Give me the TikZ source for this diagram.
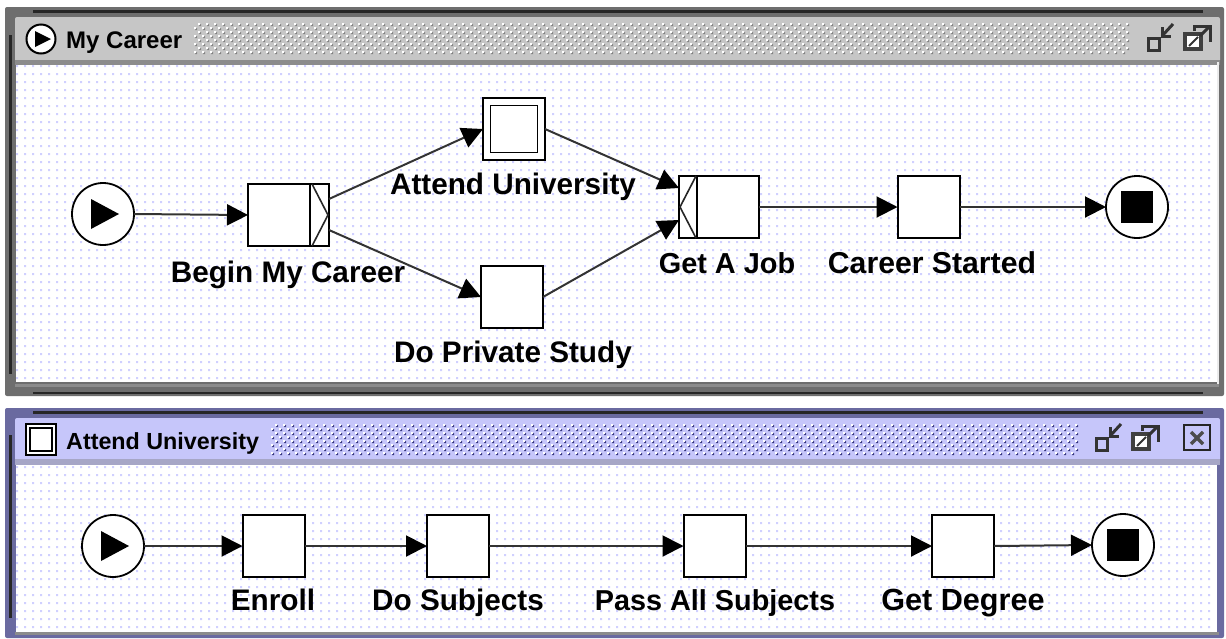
\documentclass[tikz,border=0pt]{standalone}
\usepackage{fontspec}
\setmainfont{Liberation Sans}
\usetikzlibrary{arrows.meta,calc}
\definecolor{frameg}{HTML}{6E6E6E}
\definecolor{titleg}{HTML}{C6C6C6}
\definecolor{linegg}{HTML}{8C8C8C}
\definecolor{framep}{HTML}{6A6AA0}
\definecolor{titlep}{HTML}{C6C6FA}
\definecolor{linepp}{HTML}{9090B8}
\definecolor{griddot}{HTML}{D0D0FF}
\tikzset{
  x=1pt,y=-1pt,
  taskbox/.style={draw=black,fill=white,line width=2pt,minimum width=62pt,minimum height=62pt,inner sep=0pt,outer sep=0pt},
  splitbox/.style={taskbox,minimum width=81pt},
  evcircle/.style={circle,draw=black,fill=white,line width=1.8pt,minimum size=62pt,inner sep=0pt,outer sep=0pt},
  lbl/.style={font=\bfseries\fontsize{#1}{30}\selectfont,inner sep=0pt,anchor=base},
  lbl/.default=29.7,
  ttl/.style={font=\bfseries\fontsize{#1}{24}\selectfont,inner sep=0pt,anchor=base west},
  ttl/.default=24,
  flow/.style={draw=black!80,line width=2pt,-{Triangle[length=21pt,width=21pt,black]}},
  icon/.style={line width=3pt,draw=black!80},
}
\newcommand{\griddots}[4]{%
  \fill[griddot] \foreach \gx in {#1,\numexpr#1+8\relax,...,#2}{\foreach \gy in {#3,\numexpr#3+8\relax,...,#4}{(\gx-1,\gy-1) rectangle ++(2,2)}};}
\newcommand{\stipple}[5]{% x1 x2 y1 y2 shadow
  \fill[#5] \foreach \sy [count=\si] in {#3,\numexpr#3+4\relax,...,#4}{\foreach \sx in {#1,\numexpr#1+8\relax,...,#2}{({\sx+mod(\si,2)*4+1},\sy+1) rectangle ++(2,2)}};
  \fill[white] \foreach \sy [count=\si] in {#3,\numexpr#3+4\relax,...,#4}{\foreach \sx in {#1,\numexpr#1+8\relax,...,#2}{({\sx+mod(\si,2)*4},\sy) rectangle ++(2,2)}};}
\newcommand{\winicons}[3]{% x offset, y offset, colour
  \begin{scope}[shift={(#1,#2)}]
    \draw[icon] (1148.5,38.5) rectangle (1159,50);
    \draw[icon] (1173,24) -- (1162,36);
    \draw[icon] (1162,27) -- (1162,36) -- (1171,36);
    \fill[#3!75] (1183,32) rectangle (1203,51);
    \fill[white] (1187,36) rectangle (1199,47);
    \draw[black!80,line width=2pt] (1189,46) -- (1198,37);
    \draw[icon] (1194,31) -- (1194,26) -- (1210,26) -- (1210,42);
    \draw[icon] (1200,36) -- (1209,27);
  \end{scope}}
\begin{document}
\begin{tikzpicture}
\useasboundingbox (0,0) rectangle (1226,638);
\fill[white] (0,0) rectangle (1226,638);
% ---------- window 1 ----------
\fill[frameg,rounded corners=2pt] (5,7) rectangle (1224,396);
\fill[black!85] (33,10) rectangle (1203,13);
\fill[black!85] (9,35) rectangle (11.5,374);
\fill[black!85] (33,391.5) rectangle (1203,394);
\fill[titleg,rounded corners=2pt] (15,17) rectangle (1220,62);
\fill[linegg] (15,60) rectangle (1220,65);
\fill[white] (16,65) rectangle (1217,382);
\fill[linegg] (15,384) rectangle (1219,387);
\fill[white!85!gray] (1217,62) rectangle (1219,384);
\griddots{17}{1216}{66}{381}
\stipple{194}{1128}{23}{54}{black!50}
\draw[black,line width=2pt,fill=white] (41,39) circle (14.5);
\fill[black] (35,31) -- (51,39) -- (35,47) -- cycle;
\node[ttl] (t1) at (66,48) {My Career};
\winicons{0}{0}{black}
% ---------- window 2 ----------
\fill[framep,rounded corners=2pt] (5,408) rectangle (1224,638);
\fill[black!85] (33,411) rectangle (1203,413.5);
\fill[black!85] (9,435) rectangle (11.5,618);
\fill[titlep,rounded corners=2pt] (15,418) rectangle (1220,461);
\fill[linepp!80!white] (15,459) rectangle (1220,465);
\fill[white] (16,465) rectangle (1217,632);
\fill[linegg] (15,632) rectangle (1219,635);
\griddots{17}{1216}{467}{631}
\stipple{271}{1078}{424}{455}{black!50!blue!60!gray}
\draw[black,line width=1.6pt,fill=white] (26,424) rectangle (56,455);
\draw[black,line width=1.2pt,fill=white] (30,428) rectangle (52,451);
\node[ttl=23.3] (t2) at (66,449) {Attend University};
\winicons{-52}{400}{black}
\draw[black!85,line width=2.4pt] (1184,425) rectangle (1210,450);
\draw[black!70,line width=3.4pt] (1191,432) -- (1203,444) (1203,432) -- (1191,444);
% ---------- process 1 ----------
\node[evcircle] (s1) at (103,214) {};
\fill[black] (91,199) -- (119,214) -- (91,229) -- cycle;
\node[splitbox] (begin) at (288.5,215) {};
\draw[black,line width=2pt] (310,184) -- (310,246);
\draw[black!85,line width=1.6pt] (312,184) -- (328,215) -- (312,246);
\node[taskbox] (attend) at (514,129) {};
\node[draw=black,fill=white,line width=1.6pt,minimum width=47pt,minimum height=47pt,inner sep=0pt] (attendin) at (514,129) {};
\node[taskbox] (study) at (512,297) {};
\node[splitbox,minimum width=80pt] (job) at (719,207) {};
\draw[black,line width=2pt] (697,176) -- (697,238);
\draw[black!85,line width=1.6pt] (696,176) -- (680,207) -- (696,238);
\node[taskbox] (started) at (928.5,207) {};
\node[evcircle] (e1) at (1137,207) {};
\node[fill=black,minimum size=32pt,inner sep=0pt] (e1in) at (1137,207) {};
\draw[flow] (s1.east) -- (begin.west);
\draw[flow] ([yshift=16pt]begin.east) -- (attend.west);
\draw[flow] ([yshift=-15pt]begin.east) -- (study.west);
\draw[flow] (attend.east) -- ([yshift=19pt]job.west);
\draw[flow] (study.east) -- ([yshift=-13pt]job.west);
\draw[flow] (job.east) -- (started.west);
\draw[flow] (started.east) -- (e1.west);
\node[lbl] (lattend) at (513,194) {Attend University};
\node[lbl] (lbegin) at (288,282) {Begin My Career};
\node[lbl] (lstudy) at (513,362) {Do Private Study};
\node[lbl=28.9] (ljob) at (727,273) {Get A Job};
\node[lbl=30.2] (lstarted) at (932,273) {Career Started};
% ---------- process 2 ----------
\node[evcircle] (s2) at (113,546) {};
\fill[black] (101,531) -- (129,546) -- (101,561) -- cycle;
\node[taskbox] (enroll) at (273.5,546) {};
\node[taskbox] (subjects) at (458,546) {};
\node[taskbox] (pass) at (714.5,546) {};
\node[taskbox] (degree) at (963,546) {};
\node[evcircle] (e2) at (1123,545) {};
\node[fill=black,minimum size=32pt,inner sep=0pt] (e2in) at (1123,545) {};
\draw[flow] (s2.east) -- (enroll.west);
\draw[flow] (enroll.east) -- (subjects.west);
\draw[flow] (subjects.east) -- (pass.west);
\draw[flow] (pass.east) -- (degree.west);
\draw[flow] (degree.east) -- (e2.west);
\node[lbl] (lenroll) at (273,610) {Enroll};
\node[lbl] (lsubjects) at (458,610) {Do Subjects};
\node[lbl=28.8] (lpass) at (715,610) {Pass All Subjects};
\node[lbl=30.6] (ldegree) at (963,610) {Get Degree};
\end{tikzpicture}
\end{document}
